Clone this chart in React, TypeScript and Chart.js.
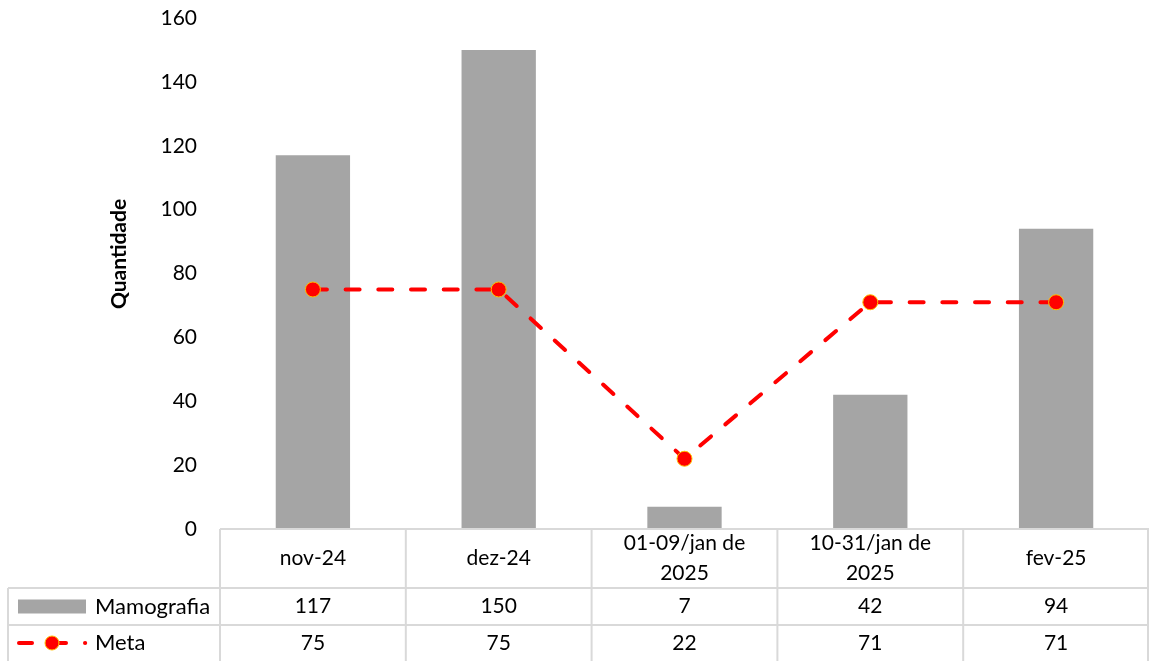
import React, { useEffect, useRef } from 'react';
import { Chart, registerables } from 'chart.js';

Chart.register(...registerables);

const categories: (string | string[])[] = ['nov-24', 'dez-24', ['01-09/jan de', '2025'], ['10-31/jan de', '2025'], 'fev-25'];
const mamografia = [117, 150, 7, 42, 94];
const meta = [75, 75, 22, 71, 71];
const seriesNames = ['Mamografia', 'Meta'];
const axisTitle = 'Quantidade';
const yMin = 0;
const yMax = 160;
const yStep = 20;

const FONT = 'Lato, "Open Sans", sans-serif';
const GRID = '#d9d9d9';
const BAR = '#a5a5a5';
const RED = '#ff0000';

const tablePlugin = {
  id: 'dataTable',
  afterDraw(chart: any) {
    const { ctx, chartArea, scales } = chart;
    const x = scales.x;
    const left = chartArea.left;
    const right = chartArea.right;
    const top = chartArea.bottom;
    const row1 = top + 59;
    const row2 = row1 + 37;
    const bottom = chart.height;
    const legendLeft = 8;
    const n = categories.length;
    const half = (x.getPixelForValue(1) - x.getPixelForValue(0)) / 2;

    ctx.save();
    ctx.strokeStyle = GRID;
    ctx.lineWidth = 2;
    const line = (x1: number, y1: number, x2: number, y2: number) => {
      ctx.beginPath();
      ctx.moveTo(x1, y1);
      ctx.lineTo(x2, y2);
      ctx.stroke();
    };
    line(left, top, right, top);
    line(legendLeft, row1, right, row1);
    line(legendLeft, row2, right, row2);
    for (let i = 0; i < n; i++) {
      const xb = x.getPixelForValue(i) - half;
      line(xb, top, xb, bottom);
    }
    line(right - 1, top, right - 1, bottom);
    line(legendLeft, row1, legendLeft, bottom);

    ctx.fillStyle = '#000';
    ctx.font = `21px ${FONT}`;
    ctx.textAlign = 'center';
    ctx.textBaseline = 'middle';
    const c0 = (top + row1) / 2;
    const c1 = (row1 + row2) / 2;
    const c2 = row2 + 18;
    for (let i = 0; i < n; i++) {
      const cx = x.getPixelForValue(i);
      const lab = categories[i];
      if (Array.isArray(lab)) {
        const lh = 30;
        lab.forEach((t, k) => ctx.fillText(t, cx, c0 + (k - (lab.length - 1) / 2) * lh));
      } else {
        ctx.fillText(lab, cx, c0);
      }
      ctx.fillText(String(mamografia[i]), cx, c1);
      ctx.fillText(String(meta[i]), cx, c2);
    }

    // legend keys
    ctx.fillStyle = BAR;
    ctx.fillRect(18, c1 - 7, 68, 14);
    ctx.strokeStyle = RED;
    ctx.lineWidth = 4;
    ctx.lineCap = 'round';
    line(19, c2, 32, c2);
    line(52, c2, 66, c2);
    line(85, c2, 85.2, c2);
    ctx.beginPath();
    ctx.arc(52, c2, 7, 0, Math.PI * 2);
    ctx.fillStyle = RED;
    ctx.fill();
    ctx.lineWidth = 1;
    ctx.strokeStyle = '#ffc000';
    ctx.stroke();

    ctx.fillStyle = '#000';
    ctx.textAlign = 'left';
    ctx.font = `22px ${FONT}`;
    ctx.fillText(seriesNames[0], 95, c1);
    ctx.fillText(seriesNames[1], 95, c2);

    // axis title
    ctx.save();
    ctx.translate(119, 254);
    ctx.rotate(-Math.PI / 2);
    ctx.font = `bold 21px ${FONT}`;
    ctx.textAlign = 'center';
    ctx.fillText(axisTitle, 0, 0);
    ctx.restore();

    ctx.restore();
  },
};

export default function App() {
  const ref = useRef<HTMLCanvasElement | null>(null);
  useEffect(() => {
    if (!ref.current) return;
    const chart = new Chart(ref.current, {
      type: 'bar',
      data: {
        labels: categories as any,
        datasets: [
          {
            type: 'line',
            label: seriesNames[1],
            data: meta,
            borderColor: RED,
            borderWidth: 4,
            borderDash: [14, 18.7],
            borderCapStyle: 'round',
            pointRadius: 7.5,
            pointBackgroundColor: RED,
            pointBorderColor: '#ffc000',
            pointBorderWidth: 1,
            tension: 0,
            fill: false,
            order: 0,
          } as any,
          {
            type: 'bar',
            label: seriesNames[0],
            data: mamografia,
            backgroundColor: BAR,
            barPercentage: 0.4,
            categoryPercentage: 1,
            order: 1,
          },
        ],
      },
      options: {
        responsive: false,
        animation: false,
        layout: { autoPadding: false, padding: { top: 18, bottom: 132, left: 0, right: 0 } },
        plugins: { legend: { display: false }, tooltip: { enabled: false } },
        scales: {
          x: { display: false, offset: true },
          y: {
            min: yMin,
            max: yMax,
            ticks: { stepSize: yStep, color: '#000', font: { family: FONT, size: 21 }, padding: 23 },
            grid: { display: false, drawTicks: false },
            border: { display: false },
            afterFit: (s: any) => {
              s.width = 220;
              s.paddingTop = 0;
              s.paddingBottom = 0;
            },
          },
        },
      } as any,
      plugins: [tablePlugin],
    });
    return () => chart.destroy();
  }, []);
  return (
    <div style={{ position: 'absolute', left: 0, top: 0, width: 1149, height: 661, background: '#fff' }}>
      <canvas ref={ref} width={1149} height={661} />
    </div>
  );
}
